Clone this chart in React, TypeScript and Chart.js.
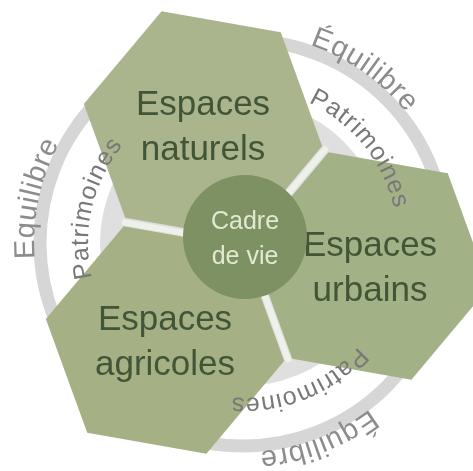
import { useEffect, useRef } from "react";
import { Chart, registerables } from "chart.js";

Chart.register(...registerables);

// ---- data (diagram units = canvas pixels) ----
const zoneLabels = ["Espaces naturels", "Espaces urbains", "Espaces agricoles"];
const zoneLines = [
  ["Espaces", "naturels"],
  ["Espaces", "urbains"],
  ["Espaces", "agricoles"],
];
const zoneX = [203, 370, 165];
const zoneY = [125, 266, 340];
const zoneColors = ["#aab58e", "#a3b186", "#a5b185"];

const centerLabel = ["Cadre", "de vie"];
const centerX = [245];
const centerY = [237];

const meetX = [246];
const meetY = [244];
const junctionX = [327, 122, 289];
const junctionY = [147, 222, 362];

const ringX = [243];
const ringY = [243];

const outerWords = ["Équilibre", "Equilibre", "Équilibre"];
const outerAngles = [-55, 192, 69];
const innerWords = ["Patrimoines", "Patrimoines", "Patrimoines"];
const innerAngles = [-39, 193, 68];

const FONT = '"Liberation Sans", Arial, Helvetica, sans-serif';
const HEX_R = 121;

function makeHex(r: number, color: string): HTMLCanvasElement {
  const c = document.createElement("canvas");
  const s = Math.ceil(2 * r + 4);
  c.width = s;
  c.height = s;
  const ctx = c.getContext("2d")!;
  ctx.fillStyle = color;
  ctx.beginPath();
  for (let k = 0; k < 6; k++) {
    const a = ((10 + 60 * k) * Math.PI) / 180;
    const px = s / 2 + r * Math.cos(a);
    const py = s / 2 + r * Math.sin(a);
    if (k === 0) ctx.moveTo(px, py);
    else ctx.lineTo(px, py);
  }
  ctx.closePath();
  ctx.fill();
  return c;
}

function drawArcText(
  ctx: CanvasRenderingContext2D,
  text: string,
  cx: number,
  cy: number,
  r: number,
  midDeg: number,
  font: string,
  color: string,
  spacing: number
) {
  ctx.save();
  ctx.font = font;
  ctx.fillStyle = color;
  ctx.textAlign = "center";
  ctx.textBaseline = "alphabetic";
  const chars = Array.from(text);
  const widths = chars.map((ch) => ctx.measureText(ch).width);
  const total = widths.reduce((a, b) => a + b, 0) + spacing * (chars.length - 1);
  const mid = (midDeg * Math.PI) / 180;
  let a = mid - total / (2 * r);
  chars.forEach((ch, i) => {
    const w = widths[i];
    const ac = a + w / 2 / r;
    ctx.save();
    ctx.translate(cx + r * Math.cos(ac), cy + r * Math.sin(ac));
    ctx.rotate(ac + Math.PI / 2);
    ctx.fillText(ch, 0, 0);
    ctx.restore();
    a += (w + spacing) / r;
  });
  ctx.restore();
}

const labelPlugin = {
  id: "diagramLabels",
  afterDatasetDraw(chart: any, args: any) {
    const ds = chart.data.datasets[args.index];
    if (ds.label !== "zones") return;
    const ctx = chart.ctx as CanvasRenderingContext2D;
    ctx.save();
    ctx.font = `35px ${FONT}`;
    ctx.fillStyle = "#415537";
    ctx.textAlign = "center";
    ctx.textBaseline = "alphabetic";
    args.meta.data.forEach((pt: any, i: number) => {
      const lines = zoneLines[i];
      ctx.fillText(lines[0], pt.x, pt.y - 10);
      ctx.fillText(lines[1], pt.x, pt.y + 35);
    });
    ctx.restore();
  },
  afterDatasetsDraw(chart: any) {
    const ctx = chart.ctx as CanvasRenderingContext2D;
    const xs = chart.scales.x;
    const ys = chart.scales.y;
    const cx = xs.getPixelForValue(centerX[0]);
    const cy = ys.getPixelForValue(centerY[0]);
    ctx.save();
    ctx.font = `25px ${FONT}`;
    ctx.fillStyle = "#e2e9d3";
    ctx.textAlign = "center";
    ctx.textBaseline = "alphabetic";
    ctx.fillText(centerLabel[0], cx, cy - 8);
    ctx.fillText(centerLabel[1], cx, cy + 27);
    ctx.restore();
    const rx = xs.getPixelForValue(ringX[0]);
    const ry = ys.getPixelForValue(ringY[0]);
    outerWords.forEach((w, i) =>
      drawArcText(ctx, w, rx, ry, 209, outerAngles[i], `29px ${FONT}`, "#8c8c8c", 0.8)
    );
    innerWords.forEach((w, i) =>
      drawArcText(ctx, w, rx, ry, 155, innerAngles[i], `25px ${FONT}`, "#787878", 0.9)
    );
  },
};

export default function App() {
  const ref = useRef<HTMLCanvasElement | null>(null);
  useEffect(() => {
    document.body.style.margin = "0";
    const canvas = ref.current!;
    const hexImages = zoneColors.map((c) => makeHex(HEX_R, c));
    const dividerSets = junctionX.map((jx, i) => ({
      label: "divider" + i,
      data: [
        { x: meetX[0], y: meetY[0] },
        { x: jx, y: junctionY[i] },
      ],
      showLine: true,
      borderColor: "#eef0ea",
      borderWidth: 6,
      pointRadius: 0,
      clip: false,
      order: 4,
    }));
    const chart = new Chart(canvas, {
      type: "scatter",
      data: {
        datasets: [
          {
            label: "centre",
            data: centerX.map((x, i) => ({ x, y: centerY[i] })),
            pointRadius: 62,
            pointStyle: "circle",
            backgroundColor: "#7e9162",
            borderWidth: 0,
            clip: false,
            order: 2,
          },
          {
            label: "zones",
            data: zoneX.map((x, i) => ({ x, y: zoneY[i] })),
            pointRadius: HEX_R,
            pointStyle: hexImages as any,
            clip: false,
            order: 3,
          },
          ...dividerSets,
          {
            label: "disk",
            data: ringX.map((x, i) => ({ x, y: ringY[i] })),
            pointRadius: 143,
            pointStyle: "circle",
            backgroundColor: "#dfdfdf",
            borderWidth: 0,
            clip: false,
            order: 5,
          },
          {
            label: "ring",
            data: ringX.map((x, i) => ({ x, y: ringY[i] })),
            pointRadius: 203,
            pointStyle: "circle",
            backgroundColor: "rgba(0,0,0,0)",
            borderColor: "#d6d6d6",
            borderWidth: 13,
            clip: false,
            order: 6,
          },
        ] as any,
      },
      options: {
        animation: false,
        responsive: false,
        events: [],
        layout: { padding: 0, autoPadding: false },
        plugins: { legend: { display: false }, tooltip: { enabled: false } },
        scales: {
          x: { type: "linear", min: 0, max: 473, display: false },
          y: { type: "linear", min: 0, max: 471, reverse: true, display: false },
        },
      },
      plugins: [labelPlugin],
    });
    return () => chart.destroy();
  }, []);
  return (
    <canvas
      ref={ref}
      width={473}
      height={471}
      style={{ display: "block", width: 473, height: 471 }}
      aria-label={zoneLabels.join(", ")}
    />
  );
}
